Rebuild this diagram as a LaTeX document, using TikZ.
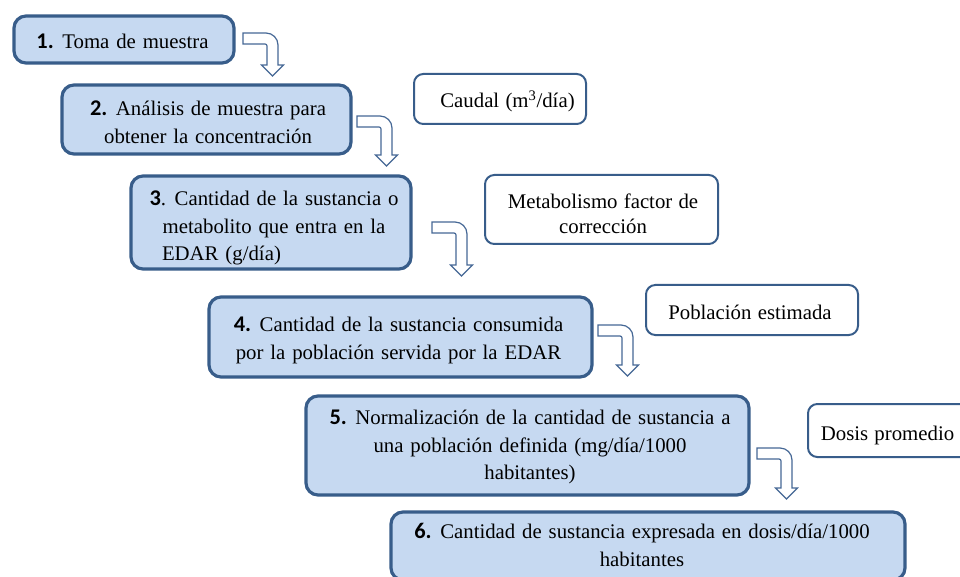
\documentclass[tikz,border=0pt]{standalone}
\usepackage{fontspec}
\setmainfont{Liberation Serif}
\newfontfamily\numfont{Carlito}
\definecolor{boxline}{RGB}{56,93,138}
\definecolor{boxfill}{RGB}{198,217,241}
\definecolor{arrline}{RGB}{70,104,150}
\newcommand\stepnum[1]{{\numfont\bfseries\fontsize{16.8}{20}\selectfont #1}}
\newcommand\mainfontsel{\fontsize{15.6}{20.8}\selectfont\spaceskip=0.33em plus 0.1em\relax}
\newcommand\sidefontsel{\fontsize{15.6}{19}\selectfont\spaceskip=0.3em plus 0.1em\relax}
\begin{document}
\begin{tikzpicture}[x=0.75pt,y=-0.75pt,
  mainbox/.style={draw=boxline, fill=boxfill, line width=2.4pt, rounded corners=9pt, inner sep=0pt},
  sidebox/.style={draw=boxline, fill=white, line width=1.5pt, rounded corners=7pt, inner sep=0pt},
  mtext/.style={inner sep=0pt, align=center, font=\mainfontsel},
  stext/.style={inner sep=0pt, align=center, font=\sidefontsel},
  pics/bentarrow/.style={code={
    \draw[arrline, fill=white, line width=0.9pt, line join=miter]
      (0,0) -- (23,0) .. controls (29.6,0) and (35,5.4) .. (35,12) -- (35,#1)
      -- (40.5,#1) -- (29.5,#1+11) -- (18.5,#1) -- (24,#1) -- (24,13)
      .. controls (24,11.9) and (23.1,11) .. (22,11) -- (0,11) -- cycle;
  }}]
\clip (0,0) rectangle (960,577);
\fill[white] (0,0) rectangle (960,577);

% main boxes
\node[mainbox, minimum width=220*0.75pt, minimum height=47*0.75pt] (b1) at (124,39.5) {};
\node[mtext] (t1) at (122.5,41.5) {\stepnum{1.} Toma de muestra};
\node[mainbox, minimum width=289*0.75pt, minimum height=69*0.75pt] (b2) at (206.5,119.5) {};
\node[mtext] (t2) at (208,122.5) {\stepnum{2.} Análisis de muestra para\\obtener la concentración};
\node[mainbox, minimum width=280*0.75pt, minimum height=93*0.75pt] (b3) at (271,222.5) {};
\node[mtext] (t3) at (274,228) {\stepnum{3}. Cantidad de la sustancia o\\metabolito que entra en la\\\makebox[168pt][l]{EDAR (g/día)}};
\node[mainbox, minimum width=383*0.75pt, minimum height=80*0.75pt] (b4) at (400.5,337) {};
\node[mtext] (t4) at (398.5,340.5) {\stepnum{4.} Cantidad de la sustancia consumida\\por la población servida por la EDAR};
\node[mainbox, minimum width=443*0.75pt, minimum height=99*0.75pt] (b5) at (527.5,445.5) {};
\node[mtext] (t5) at (530,447) {\stepnum{5.} Normalización de la cantidad de sustancia a\\una población definida (mg/día/1000\\habitantes)};
\node[mainbox, minimum width=514*0.75pt, minimum height=68*0.75pt] (b6) at (648,546) {};
\node[mtext] (t6) at (642,545) {\stepnum{6.} Cantidad de sustancia expresada en dosis/día/1000\\habitantes};

% side boxes
\node[sidebox, minimum width=172*0.75pt, minimum height=50*0.75pt] (s1) at (500,99) {};
\node[stext] (u1) at (507.5,101) {Caudal (m\textsuperscript{3}/día)};
\node[sidebox, minimum width=233*0.75pt, minimum height=69*0.75pt] (s2) at (601.5,209.5) {};
\node[stext] (u2) at (603,213.5) {Metabolismo factor de\\corrección};
\node[sidebox, minimum width=212*0.75pt, minimum height=50*0.75pt] (s3) at (752,310) {};
\node[stext] (u3) at (750,312) {Población estimada};
\node[sidebox, minimum width=170*0.75pt, minimum height=53*0.75pt, anchor=west] (s4) at (807,430.5) {};
\node[stext] (u4) at (887.5,435) {Dosis promedio};

% bent arrows
\pic at (243,33) {bentarrow=32};
\pic at (357,116) {bentarrow=39};
\pic at (432,222) {bentarrow=43};
\pic at (598,325) {bentarrow=40};
\pic at (757,448) {bentarrow=40};
\end{tikzpicture}
\end{document}
